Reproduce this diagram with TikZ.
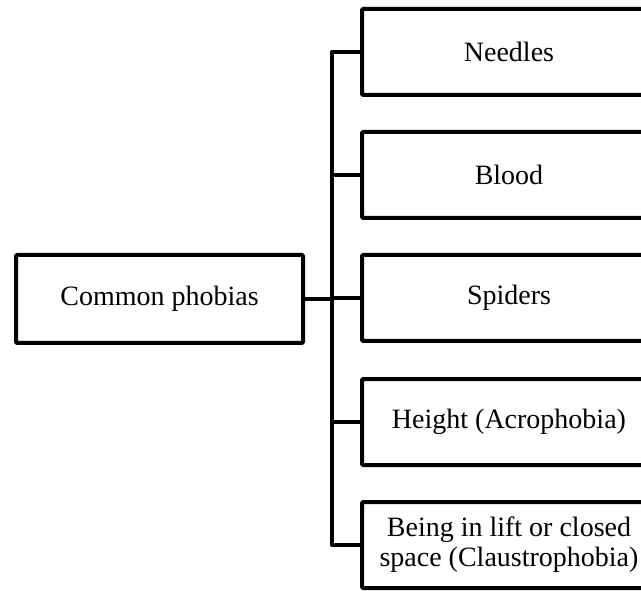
\documentclass[tikz,border=0pt]{standalone}
\usepackage{fontspec}
\setmainfont{Liberation Serif}
\begin{document}
\begin{tikzpicture}[x=1pt,y=-1pt,
  line width=4pt, line join=round,
  box/.style={draw=black, fill=white, line width=4pt, rounded corners=1pt,
    align=center, inner sep=0pt,
    font=\fontsize{28}{30}\selectfont},
  rootbox/.style={box, minimum width=287pt, minimum height=88pt},
  leafbox/.style={box, minimum width=294pt, minimum height=86pt},
  link/.style={draw=black, line width=4pt, line join=round}]
  \useasboundingbox (0,0) rectangle (641,591);
  \clip (0,0) rectangle (641,591);

  % root and the five categories
  \node[rootbox] (root) at (159.5,299) {Common phobias};
  \node[leafbox] (b1) at (509,52)  {Needles};
  \node[leafbox] (b2) at (509,175) {Blood};
  \node[leafbox] (b3) at (509,298) {Spiders};
  \node[leafbox] (b4) at (509,422) {Height (Acrophobia)};
  \node[leafbox] (b5) at (509,545) {Being in lift or closed\\space (Claustrophobia)};

  % vertical trunk position
  \coordinate (t) at (332,0);

  % bracket: trunk with the outer branches
  \draw[link] (b1.west) -- (b1.west -| t) -- (b5.west -| t) -- (b5.west);
  % inner branches
  \draw[link] (b2.west) -- (b2.west -| t);
  \draw[link] (b3.west) -- (b3.west -| t);
  \draw[link] (b4.west) -- (b4.west -| t);
  % root connector
  \draw[link] (root.east) -- (root.east -| t);
\end{tikzpicture}
\end{document}
